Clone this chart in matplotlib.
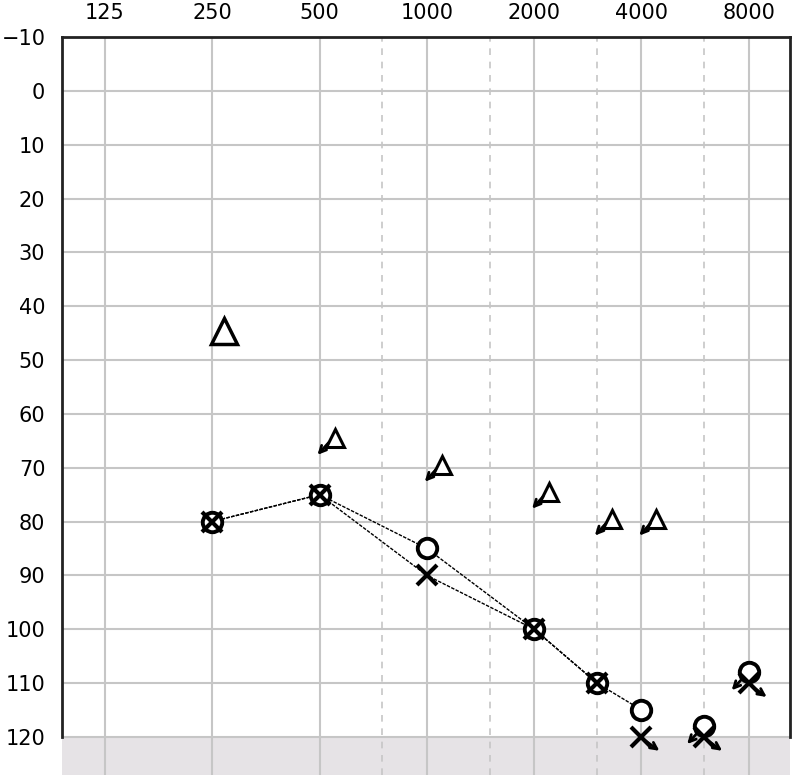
import matplotlib
matplotlib.use('Agg')
import matplotlib.pyplot as plt
import matplotlib.transforms as mtransforms
import numpy as np

# audiogram data (frequency in Hz, hearing level in dB)
freq_ticks = [125, 250, 500, 1000, 2000, 4000, 8000]
half_octaves = [750, 1500, 3000, 6000]
db_ticks = list(range(-10, 121, 10))
db_labels = ['\u221210'] + [str(v) for v in db_ticks[1:]]

# right ear air conduction (O), connected
right_f = [250, 500, 1000, 2000, 3000, 4000]
right_db = [80, 75, 85, 100, 110, 115]
# right ear, no response
right_nr_f = [6000, 8000]
right_nr_db = [118, 108]

# left ear air conduction (X), connected
left_f = [250, 500, 1000, 2000, 3000]
left_db = [80, 75, 90, 100, 110]
# left ear, no response
left_nr_f = [4000, 6000, 8000]
left_nr_db = [120, 120, 110]

# bone conduction (triangles)
bone_f = [250]
bone_db = [45]
bone_nr_f = [500, 1000, 2000, 3000, 4000]
bone_nr_db = [65, 70, 75, 80, 80]

fig = plt.figure(figsize=(7.97, 7.80), dpi=100)
ax = fig.add_axes([62/797, 5/780, (790-62)/797, (775-38)/780 + 0.001])

ax.set_xscale('log', base=2)
ax.set_xlim(125 * 2**-0.40, 8000 * 2**0.385)
ax.set_ylim(127.1, -10)

ax.axhspan(120, 130, color='#e6e3e6', zorder=0)

grid_c = '#c6c6c6'
for f in freq_ticks:
    ax.axvline(f, color=grid_c, lw=1.5, zorder=1)
for f in half_octaves:
    ax.axvline(f, color=grid_c, lw=1.2, ls=(0, (4, 4)), zorder=1)
for d in db_ticks[1:]:
    ax.axhline(d, color=grid_c, lw=1.5, zorder=1)

for s in ['left', 'right', 'top']:
    ax.spines[s].set_color('#222222')
    ax.spines[s].set_linewidth(2)
ax.spines['bottom'].set_visible(False)
ax.spines['left'].set_bounds(-10, 120)
ax.spines['right'].set_bounds(-10, 120)

ax.xaxis.tick_top()
ax.set_xticks(freq_ticks)
ax.set_xticklabels([str(f) for f in freq_ticks])
ax.xaxis.set_minor_locator(matplotlib.ticker.NullLocator())
ax.set_yticks(db_ticks)
ax.set_yticklabels(db_labels)
ax.tick_params(axis='x', length=0, pad=10, labelsize=15)
ax.tick_params(axis='y', length=0, pad=12, labelsize=15)


def shifted(dx, dy):
    # pixel offset on top of data coordinates
    return ax.transData + mtransforms.ScaledTranslation(dx/100, -dy/100, fig.dpi_scale_trans)


def arrow(f, d, x0, y0, x1, y1):
    ax.annotate('', xy=(f, d), xycoords=shifted(x1, y1),
                xytext=(f, d), textcoords=shifted(x0, y0),
                arrowprops=dict(arrowstyle='->', lw=2, color='black',
                                shrinkA=0, shrinkB=0, mutation_scale=12),
                zorder=6)


line_style = dict(color='black', lw=1, ls=(0, (2.5, 1)), zorder=3)
ax.plot(right_f, right_db, **line_style)
ax.plot(left_f, left_db, **line_style)

o_style = dict(ls='none', marker='o', ms=14, mfc='white', mec='black', mew=2.8, zorder=4)
x_style = dict(ls='none', marker='x', ms=15, mec='black', mew=3, zorder=5)

ax.plot(right_f, right_db, **o_style)
ax.plot(left_f, left_db, **x_style)
ax.plot(right_nr_f, right_nr_db, **o_style)
ax.plot(left_nr_f, left_nr_db, **x_style)

for f, d in zip(right_nr_f, right_nr_db):
    arrow(f, d, -6, 6, -17, 18)
for f, d in zip(left_nr_f, left_nr_db):
    arrow(f, d, 4, 4, 18, 14)

ax.plot(bone_f, bone_db, ls='none', marker='^', ms=19, mfc='white', mec='black',
        mew=2.5, zorder=4, transform=shifted(12, -2))
ax.plot(bone_nr_f, bone_nr_db, ls='none', marker='^', ms=13, mfc='white', mec='black',
        mew=2.2, zorder=4, transform=shifted(15, -3))
for f, d in zip(bone_nr_f, bone_nr_db):
    arrow(f, d, 9, 2, -2, 14)

fig.savefig('out.png', dpi=100)
